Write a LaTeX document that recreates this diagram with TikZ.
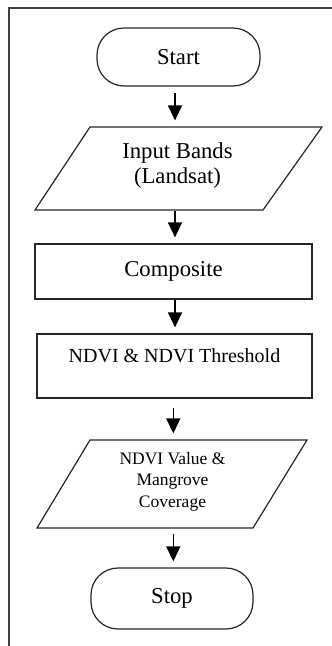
\documentclass[tikz,border=0pt]{standalone}
\usepackage{fontspec}
\setmainfont{Liberation Serif}
\usetikzlibrary{arrows.meta,calc}
\begin{document}
\begin{tikzpicture}[x=1pt,y=-1pt,
  line width=1.2pt, draw=black!85,
  box/.style={draw=black!85, line width=1.2pt, rectangle, inner sep=0pt},
  term/.style={box, rounded corners=27pt},
  big/.style={font=\fontsize{22.7}{25}\selectfont},
  mid/.style={font=\fontsize{20}{22}\selectfont},
  small/.style={font=\fontsize{17.5}{21.5}\selectfont},
  ghost/.style={rectangle, inner sep=0pt, align=center},
  arr/.style={draw=black, line width=1.3pt, -{Triangle[width=14pt,length=15pt]}}]
\useasboundingbox (0,0) rectangle (332,646);
% frame
\draw[line width=2pt, draw=black!75] (332,8) -- (8.5,8) -- (8.5,646);
% arrow axes
\coordinate (axA) at (175,0);
\coordinate (axB) at (173.3,0);
% nodes
\node[term, big, minimum width=163pt, minimum height=58pt] (start) at (178.5,57) {Start};
\draw[line width=1.2pt] (90,127) -- (322,127) -- (263,210) -- (35,210) -- cycle;
\node[ghost, big, minimum height=83pt] (p1) at (177.5,168.5) {};
\node[ghost, big] (p1t) at (177.5,166) {Input Bands\\(Landsat)};
\node[box, big, minimum width=277pt, minimum height=55pt] (comp) at (173.5,271.5) {Composite};
\node[box, mid, minimum width=275pt, minimum height=64pt, text depth=20pt] (ndvi) at (174.5,366) {NDVI \& NDVI Threshold};
\draw[line width=1.2pt] (90,440) -- (307,440) -- (253,528) -- (37,528) -- cycle;
\node[ghost, minimum height=88pt] (p2) at (171.75,484) {};
\node[ghost, small] (p2t) at (172.5,481.5) {NDVI Value \&\\Mangrove\\Coverage};
\node[term, big, minimum width=162pt, minimum height=61pt] (stop) at (172,598.5) {Stop};
% connectors
\draw[arr] ($(start.south -| axA)+(0,6)$) -- ($(p1.north -| axA)+(0,-6)$);
\draw[arr] (p1.south -| axA) -- ($(comp.north -| axA)+(0,-6)$);
\draw[arr] (comp.south -| axA) -- ($(ndvi.north -| axA)+(0,-6)$);
\draw[arr] ($(ndvi.south -| axB)+(0,9)$) -- ($(p2.north -| axB)+(0,-6)$);
\draw[arr] ($(p2.south -| axB)+(0,5)$) -- ($(stop.north -| axB)+(0,-6)$);
\end{tikzpicture}
\end{document}
